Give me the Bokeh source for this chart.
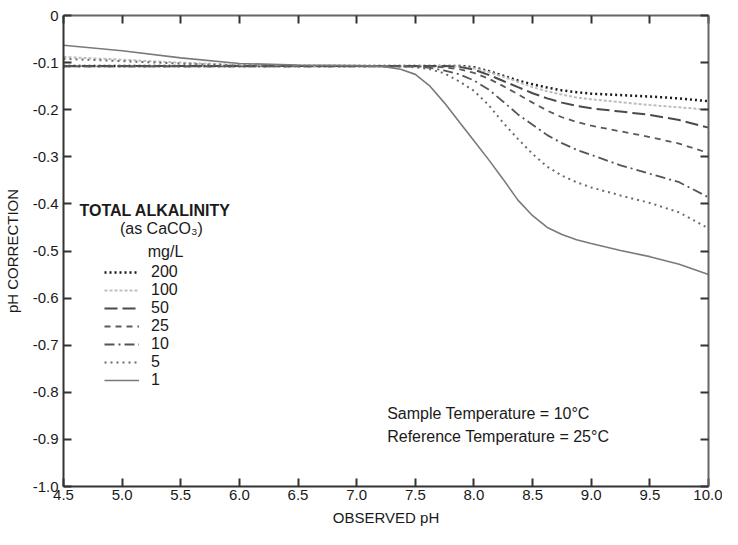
from bokeh.plotting import figure
from bokeh.models import (Range1d, LinearAxis, FixedTicker, Legend, LegendItem,
                          Label, CustomJSTickFormatter)
from bokeh.embed import file_html
from bokeh.resources import INLINE

# ---- data ----
ph = [4.5, 5.0, 5.5, 6.0, 6.5, 7.0, 7.125, 7.25, 7.375, 7.5, 7.625, 7.75, 7.875,
      8.0, 8.125, 8.25, 8.375, 8.5, 8.625, 8.75, 8.875, 9.0, 9.25, 9.5, 9.75, 10.0]

alk_200 = [-0.107, -0.107, -0.107, -0.107, -0.107, -0.107, -0.107, -0.107, -0.107, -0.107, -0.107, -0.107, -0.107,
           -0.110, -0.118, -0.128, -0.138, -0.146, -0.153, -0.159, -0.163, -0.166, -0.169, -0.172, -0.176, -0.182]
alk_100 = [-0.088, -0.094, -0.100, -0.105, -0.107, -0.107, -0.107, -0.107, -0.107, -0.107, -0.107, -0.107, -0.108,
           -0.112, -0.120, -0.130, -0.141, -0.152, -0.161, -0.168, -0.174, -0.178, -0.184, -0.190, -0.195, -0.200]
alk_50 = [-0.107, -0.107, -0.107, -0.107, -0.107, -0.107, -0.107, -0.107, -0.107, -0.107, -0.107, -0.107, -0.109,
          -0.115, -0.126, -0.139, -0.152, -0.165, -0.176, -0.185, -0.192, -0.197, -0.204, -0.211, -0.222, -0.238]
alk_25 = [-0.108, -0.108, -0.108, -0.108, -0.108, -0.108, -0.108, -0.108, -0.108, -0.108, -0.108, -0.110, -0.114,
          -0.122, -0.134, -0.150, -0.167, -0.185, -0.202, -0.216, -0.226, -0.234, -0.246, -0.258, -0.272, -0.292]
alk_10 = [-0.108, -0.108, -0.108, -0.108, -0.108, -0.108, -0.108, -0.108, -0.108, -0.108, -0.111, -0.117, -0.125,
          -0.138, -0.157, -0.183, -0.210, -0.232, -0.254, -0.271, -0.285, -0.296, -0.318, -0.336, -0.354, -0.386]
alk_5 = [-0.092, -0.097, -0.102, -0.106, -0.107, -0.107, -0.107, -0.107, -0.108, -0.110, -0.114, -0.123, -0.140,
         -0.160, -0.190, -0.228, -0.262, -0.294, -0.321, -0.340, -0.354, -0.365, -0.382, -0.398, -0.418, -0.452]
alk_1 = [-0.063, -0.075, -0.090, -0.102, -0.105, -0.106, -0.107, -0.109, -0.114, -0.125, -0.150, -0.186, -0.226,
         -0.266, -0.306, -0.348, -0.392, -0.425, -0.450, -0.465, -0.476, -0.484, -0.499, -0.512, -0.528, -0.550]

series_labels = ["200", "100", "50", "25", "10", "5", "1"]
series_values = [alk_200, alk_100, alk_50, alk_25, alk_10, alk_5, alk_1]

x_ticks = [4.5, 5.0, 5.5, 6.0, 6.5, 7.0, 7.5, 8.0, 8.5, 9.0, 9.5, 10.0]
x_tick_labels = ["4.5", "5.0", "5.5", "6.0", "6.5", "7.0", "7.5", "8.0", "8.5", "9.0", "9.5", "10.0"]
y_ticks = [0.0, -0.1, -0.2, -0.3, -0.4, -0.5, -0.6, -0.7, -0.8, -0.9, -1.0]
y_tick_labels = ["0", "-0.1", "-0.2", "-0.3", "-0.4", "-0.5", "-0.6", "-0.7", "-0.8", "-0.9", "-1.0"]

# ---- styles ----
styles = {
    "200": dict(line_color="#1a1a1a", line_width=2.5, line_dash="2 3"),
    "100": dict(line_color="#bdbdbd", line_width=2.0, line_dash="3 2"),
    "50": dict(line_color="#4a4a4a", line_width=2.0, line_dash="13 5"),
    "25": dict(line_color="#5a5a5a", line_width=1.8, line_dash="6 5"),
    "10": dict(line_color="#555555", line_width=1.8, line_dash="10 4 2 4"),
    "5": dict(line_color="#6a6a6a", line_width=2.0, line_dash="2 4"),
    "1": dict(line_color="#7a7a7a", line_width=1.6, line_dash="solid"),
}

FONT = "Liberation Sans"
TXT = "#1a1a1a"

p = figure(width=722, height=529, x_range=Range1d(4.5, 10.0), y_range=Range1d(-1.0, 0.0),
           output_backend="svg", toolbar_location=None,
           min_border_left=63, min_border_right=14, min_border_top=15, min_border_bottom=43)
p.xgrid.visible = False
p.ygrid.visible = False
p.outline_line_color = None
p.background_fill_color = "white"
p.border_fill_color = "white"

renderers = {}
for lab, vals in zip(series_labels, series_values):
    renderers[lab] = p.line(ph, vals, **styles[lab])


def style_axis(ax, ticks, labels, show_labels=True):
    ax.ticker = FixedTicker(ticks=ticks)
    ax.axis_line_color = "#333333"
    ax.axis_line_width = 2
    ax.major_tick_line_color = "#333333"
    ax.major_tick_line_width = 2
    ax.major_tick_in = 8
    ax.major_tick_out = 0
    ax.minor_tick_line_color = None
    if show_labels:
        ax.major_label_overrides = {t: l for t, l in zip(ticks, labels)}
        ax.major_label_text_font = FONT
        ax.major_label_text_font_size = "15px"
        ax.major_label_text_color = TXT
    else:
        ax.formatter = CustomJSTickFormatter(code="return ''")
        ax.major_label_standoff = 0


xa = p.xaxis[0]
ya = p.yaxis[0]
style_axis(xa, x_ticks, x_tick_labels)
style_axis(ya, y_ticks, y_tick_labels)
xa.major_label_standoff = 3
ya.major_label_standoff = 5
xa.axis_label = "OBSERVED pH"
ya.axis_label = "pH CORRECTION"
for ax in (xa, ya):
    ax.axis_label_text_font = FONT
    ax.axis_label_text_font_size = "15px"
    ax.axis_label_text_font_style = "normal"
    ax.axis_label_text_color = TXT
xa.axis_label_standoff = 6
ya.axis_label_standoff = 9

ra = LinearAxis()
style_axis(ra, y_ticks, y_tick_labels, show_labels=False)
ra.axis_line_color = "#666666"
p.add_layout(ra, "right")
ta = LinearAxis()
style_axis(ta, x_ticks, x_tick_labels, show_labels=False)
ta.axis_line_color = "#666666"
p.add_layout(ta, "above")

# legend
items = [LegendItem(label=lab, renderers=[renderers[lab]]) for lab in series_labels]
leg = Legend(items=items, location=(41, 97), orientation="vertical",
             glyph_width=35, glyph_height=18, label_height=18, spacing=0,
             label_standoff=12, padding=0, margin=0,
             border_line_color=None, background_fill_alpha=0,
             label_text_font=FONT, label_text_font_size="16px", label_text_color=TXT)
p.add_layout(leg)

# legend heading
p.add_layout(Label(x=4.636, y=-0.415, text="TOTAL ALKALINITY", text_font=FONT,
                   text_font_size="16px", text_font_style="bold", text_color=TXT,
                   text_baseline="middle", text_align="left"))
p.add_layout(Label(x=5.335, y=-0.453, text="(as CaCO₃)", text_font=FONT,
                   text_font_size="16px", text_color=TXT,
                   text_baseline="middle", text_align="center"))
p.add_layout(Label(x=5.37, y=-0.502, text="mg/L", text_font=FONT,
                   text_font_size="16px", text_color=TXT,
                   text_baseline="middle", text_align="center"))

# temperature notes
p.add_layout(Label(x=7.26, y=-0.845, text="Sample Temperature = 10°C", text_font=FONT,
                   text_font_size="16px", text_color=TXT,
                   text_baseline="middle", text_align="left"))
p.add_layout(Label(x=7.26, y=-0.894, text="Reference Temperature = 25°C", text_font=FONT,
                   text_font_size="16px", text_color=TXT,
                   text_baseline="middle", text_align="left"))

open("out.html", "w").write(file_html(p, INLINE))
